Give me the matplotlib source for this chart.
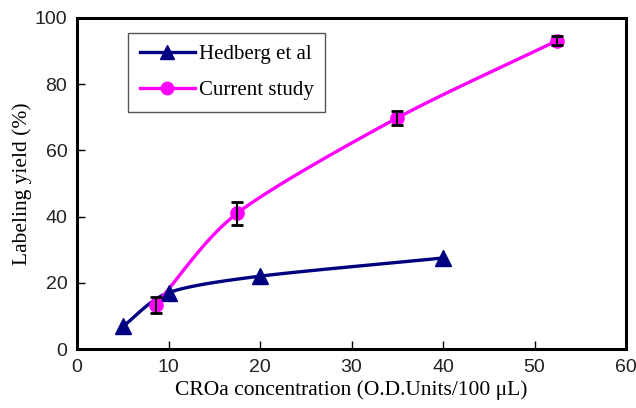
import matplotlib.pyplot as plt
import numpy as np

hedberg_x = [5, 10, 20, 40]
hedberg_y = [6.8, 17.0, 22.0, 27.5]

current_x = [8.6, 17.5, 35.0, 52.5]
current_y = [13.4, 41.0, 69.8, 93.2]
current_err = [2.4, 3.5, 2.2, 1.5]

x_ticks = [0, 10, 20, 30, 40, 50, 60]
y_ticks = [0, 20, 40, 60, 80, 100]


def smooth(xs, ys, n=40):
    # Catmull-Rom style curve through the points, like the spreadsheet's smoothed line
    xs = np.asarray(xs, float)
    ys = np.asarray(ys, float)
    px = np.concatenate([[2 * xs[0] - xs[1]], xs, [2 * xs[-1] - xs[-2]]])
    py = np.concatenate([[2 * ys[0] - ys[1]], ys, [2 * ys[-1] - ys[-2]]])
    out_x, out_y = [], []
    t = np.linspace(0, 1, n)
    for i in range(1, len(px) - 2):
        for arr, src in ((out_x, px), (out_y, py)):
            p0, p1, p2, p3 = src[i - 1], src[i], src[i + 1], src[i + 2]
            m1 = (p2 - p0) / 2 * 0.83
            m2 = (p3 - p1) / 2 * 0.83
            h00 = 2 * t**3 - 3 * t**2 + 1
            h10 = t**3 - 2 * t**2 + t
            h01 = -2 * t**3 + 3 * t**2
            h11 = t**3 - t**2
            arr.extend(h00 * p1 + h10 * m1 + h01 * p2 + h11 * m2)
    return np.array(out_x), np.array(out_y)


serif = ["Liberation Serif", "DejaVu Serif"]
sans = ["Liberation Sans", "DejaVu Sans"]

fig = plt.figure(figsize=(6.36, 4.08), dpi=100)
ax = fig.add_axes([77 / 636, 59 / 408, 549 / 636, 331 / 408])

navy = "#000080"
magenta = "#FF00FF"

sx, sy = smooth(hedberg_x, hedberg_y)
ax.plot(sx, sy, color=navy, lw=2.4, zorder=2)
ax.plot(hedberg_x, hedberg_y, ls="none", marker="^", ms=11, color=navy, zorder=3)

cx, cy = smooth(current_x, current_y)
ax.plot(cx, cy, color=magenta, lw=2.4, zorder=2)
ax.errorbar(current_x, current_y, yerr=current_err, fmt="none", ecolor="black",
            elinewidth=1.5, capsize=4, capthick=2, zorder=4)
ax.plot(current_x, current_y, ls="none", marker="o", ms=9.5, color=magenta, zorder=3)

# legend handles
ax.plot([], [], color=navy, lw=2.4, marker="^", ms=10, label="Hedberg et al")
ax.plot([], [], color=magenta, lw=2.4, marker="o", ms=9, label="Current study")
leg = ax.legend(loc="upper left", bbox_to_anchor=(0.093, 0.955), borderaxespad=0,
                frameon=True, fancybox=False, edgecolor="#555555", framealpha=1,
                prop={"family": serif, "size": 15}, handlelength=2.65,
                borderpad=0.55, labelspacing=0.8, handletextpad=0.2)
leg.get_frame().set_linewidth(1.0)

ax.set_xlim(0, 60)
ax.set_ylim(0, 100)
ax.set_xticks(x_ticks)
ax.set_yticks(y_ticks)
ax.tick_params(direction="in", length=6, width=1, labelsize=14, pad=7)
for lab in ax.get_xticklabels() + ax.get_yticklabels():
    lab.set_family(sans)
    lab.set_color("#222222")

for side in ["left", "bottom", "top", "right"]:
    ax.spines[side].set_linewidth(2.2)

ax.set_xlabel("CROa concentration (O.D.Units/100 \u03bcL)", family=serif,
              fontsize=15.5, labelpad=3)
ax.set_ylabel("Labeling yield (%)", family=serif, fontsize=15.5, labelpad=2)

fig.savefig("out.png", dpi=100)
